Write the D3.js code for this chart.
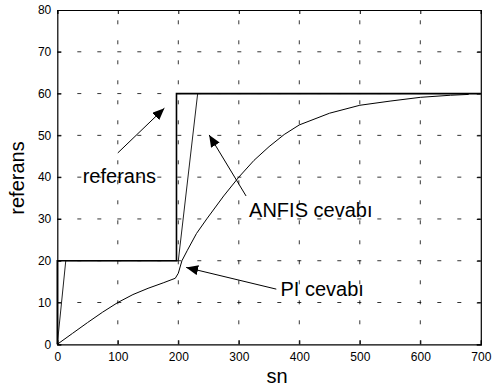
<!DOCTYPE html>
<html lang="tr">
<head>
<meta charset="UTF-8">
<title>referans / ANFIS / PI</title>
<style>
    body { margin: 0; background: #fff; }
    svg text { font-family: "Liberation Sans", Arial, sans-serif; fill: #000; }
</style>
</head>
<body>
<svg id="chart"></svg>
<script src="https://cdn.jsdelivr.net/npm/d3@7"></script>
<script>
    // data
    const xTicks = [0, 100, 200, 300, 400, 500, 600, 700]
    const yTicks = [0, 10, 20, 30, 40, 50, 60, 70, 80]

    const refX = [0, 0, 197, 197, 700]
    const refY = [0, 20, 20, 60, 60]

    const anfisX = [0, 14, 200, 232, 700]
    const anfisY = [0, 20, 20, 60, 60]

    const piX = [0, 25, 50, 75, 100, 125, 150, 175, 195, 200, 203, 206, 215, 230, 247, 275, 300, 325, 350, 375, 400, 450, 500, 550, 600, 650, 680]
    const piY = [0, 2.6, 5.2, 7.7, 10, 11.9, 13.4, 14.7, 15.8, 17, 18.5, 20, 22.5, 26.5, 30, 35.5, 40, 44, 47.3, 50.2, 52.5, 55.3, 57.2, 58.2, 59.1, 59.6, 59.8]

    // annotations: text + arrow (from -> tip), in data units
    const notes = [
        {label: 'referans', tx: 42, ty: 38.6, x1: 100, y1: 45.8, x2: 177, y2: 56.5},
        {label: 'ANFIS cevabı', tx: 317, ty: 30.5, x1: 312, y1: 35.5, x2: 251, y2: 50.1},
        {label: 'PI cevabı', tx: 369, ty: 11.5, x1: 362, y1: 13.2, x2: 213, y2: 18.4},
    ]

    const W = 493, H = 389
    const mLeft = 57.3, mRight = 480.8, mTop = 10, mBottom = 344.3

    const svg = d3.select('#chart').attr('width', W).attr('height', H)

    const x = d3.scaleLinear().domain([0, 700]).range([mLeft, mRight])
    const y = d3.scaleLinear().domain([0, 80]).range([mBottom, mTop])

    // grid
    const grid = svg.append('g').attr('stroke', '#000').attr('stroke-width', 0.8)
        .attr('stroke-dasharray', '4,16')
    grid.selectAll('.gx').data(xTicks.slice(1, -1)).enter().append('line')
        .attr('x1', d => x(d)).attr('x2', d => x(d))
        .attr('y1', y(0)).attr('y2', y(80))
    grid.selectAll('.gy').data(yTicks.slice(1, -1)).enter().append('line')
        .attr('y1', d => y(d)).attr('y2', d => y(d))
        .attr('x1', x(0)).attr('x2', x(700))

    // axes
    const xAxis = d3.axisBottom(x).tickValues(xTicks).tickSize(-4).tickPadding(8)
    const yAxis = d3.axisLeft(y).tickValues(yTicks).tickSize(-4).tickPadding(6)
    svg.append('g').attr('transform', `translate(0,${mBottom})`).call(xAxis)
    svg.append('g').attr('transform', `translate(${mLeft},0)`).call(yAxis)
    svg.append('g').attr('transform', `translate(0,${mTop})`)
        .call(d3.axisTop(x).tickValues(xTicks).tickSize(-4).tickFormat(''))
    svg.append('g').attr('transform', `translate(${mRight},0)`)
        .call(d3.axisRight(y).tickValues(yTicks).tickSize(-4).tickFormat(''))
    svg.selectAll('.domain').attr('stroke', '#000').attr('stroke-width', 1.2)
    svg.selectAll('.tick line').attr('stroke', '#000')
    svg.selectAll('.tick text').attr('font-size', 12).attr('font-family', '"Liberation Sans", Arial, sans-serif')

    // series
    const line = d3.line().x(d => x(d[0])).y(d => y(d[1]))
    const zip = (a, b) => a.map((v, i) => [v, b[i]])

    svg.append('path').datum(zip(piX, piY)).attr('d', line)
        .attr('fill', 'none').attr('stroke', '#000').attr('stroke-width', 1)
    svg.append('path').datum(zip(anfisX, anfisY)).attr('d', line)
        .attr('fill', 'none').attr('stroke', '#222').attr('stroke-width', 1)
    svg.append('path').datum(zip(refX, refY)).attr('d', line)
        .attr('fill', 'none').attr('stroke', '#000').attr('stroke-width', 1.6)

    // arrows
    svg.append('defs').append('marker')
        .attr('id', 'head').attr('viewBox', '0 0 12 10')
        .attr('refX', 12).attr('refY', 5)
        .attr('markerWidth', 12).attr('markerHeight', 10)
        .attr('markerUnits', 'userSpaceOnUse')
        .attr('orient', 'auto')
        .append('path').attr('d', 'M0,0L12,5L0,10Z').attr('fill', '#000')

    svg.selectAll('.arrow').data(notes).enter().append('line')
        .attr('x1', d => x(d.x1)).attr('y1', d => y(d.y1))
        .attr('x2', d => x(d.x2)).attr('y2', d => y(d.y2))
        .attr('stroke', '#000').attr('stroke-width', 1)
        .attr('marker-end', 'url(#head)')

    svg.selectAll('.note').data(notes).enter().append('text')
        .attr('x', d => x(d.tx)).attr('y', d => y(d.ty))
        .attr('font-size', 20)
        .text(d => d.label)

    // axis labels
    svg.append('text').attr('x', 277).attr('y', 383)
        .attr('text-anchor', 'middle').attr('font-size', 20).text('sn')
    svg.append('text').attr('transform', 'translate(24,178) rotate(-90)')
        .attr('text-anchor', 'middle').attr('font-size', 20).text('referans')
</script>
</body>
</html>
